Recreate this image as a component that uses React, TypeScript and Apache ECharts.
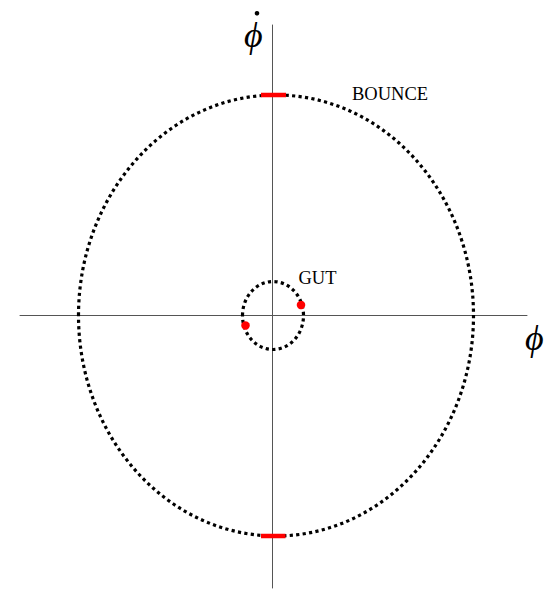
import React, { useEffect, useRef } from "react";
import * as echarts from "echarts";

// orbit ellipses: [centerX, centerY, radiusX, radiusY] in phase-space units
const bigOrbit = [0.035, 0, 1.975, 2.205];
const smallOrbit = [0.005, 0, 0.305, 0.34];
// highlighted segments (BOUNCE) and points (GUT)
const bounceTop = [[-0.115, 2.205], [0.135, 2.205]];
const bounceBottom = [[-0.115, -2.205], [0.13, -2.205]];
const gutPoints = [[0.285, 0.105], [-0.27, -0.1]];
// text labels: [x, y, text]
const labels: [number, number, string][] = [
  [1.175, 2.22, "BOUNCE"],
  [0.45, 0.38, "GUT"],
];
const xRange = [-2.525, 2.545];
const yRange = [-2.725, 2.905];

export default function App() {
  const ref = useRef<HTMLDivElement>(null);
  useEffect(() => {
    const chart = echarts.init(ref.current!, undefined, { renderer: "svg" });
    const serif = "Liberation Serif, DejaVu Serif, serif";
    const ellipseItem = (params: any, api: any) => {
      const c = api.coord([api.value(0), api.value(1)]);
      const s = api.size([api.value(2), api.value(3)]);
      return {
        type: "ellipse",
        shape: { cx: c[0], cy: c[1], rx: s[0], ry: s[1] },
        style: { fill: "none", stroke: "#000", lineWidth: 3.2, lineDash: [3.2, 3.3], lineCap: "butt" },
      };
    };
    chart.setOption({
      animation: false,
      backgroundColor: "#fff",
      grid: { left: 20, right: 20, top: 25, bottom: 3 },
      xAxis: {
        type: "value",
        min: xRange[0],
        max: xRange[1],
        axisLine: { show: true, onZero: true, lineStyle: { color: "#555", width: 1 } },
        axisTick: { show: false },
        axisLabel: { show: false },
        splitLine: { show: false },
      },
      yAxis: {
        type: "value",
        min: yRange[0],
        max: yRange[1],
        axisLine: { show: true, onZero: true, lineStyle: { color: "#555", width: 1 } },
        axisTick: { show: false },
        axisLabel: { show: false },
        splitLine: { show: false },
      },
      series: [
        { type: "custom", renderItem: ellipseItem, data: [bigOrbit, smallOrbit], silent: true },
        {
          type: "line",
          data: bounceTop,
          symbol: "none",
          lineStyle: { color: "#f00", width: 4.5 },
          z: 5,
        },
        {
          type: "line",
          data: bounceBottom,
          symbol: "none",
          lineStyle: { color: "#f00", width: 4.5 },
          z: 5,
        },
        {
          type: "scatter",
          data: gutPoints,
          symbolSize: 8.5,
          itemStyle: { color: "#f00", opacity: 1 },
          z: 5,
        },
        {
          type: "scatter",
          data: labels.map((l) => [l[0], l[1], l[2]]),
          symbolSize: 0,
          itemStyle: { opacity: 1 },
          label: {
            show: true,
            position: "inside",
            formatter: (p: any) => p.value[2],
            fontFamily: serif,
            fontSize: 18.5,
            color: "#000",
            textBorderWidth: 0,
          },
        },
      ],
      graphic: [
        {
          type: "text",
          left: 244,
          top: 17,
          style: { text: "ϕ", font: `italic 36px ${serif}`, fill: "#000" },
        },
        { type: "circle", shape: { cx: 257, cy: 13.3, r: 2.3 }, style: { fill: "#000" } },
        {
          type: "text",
          left: 525,
          top: 320,
          style: { text: "ϕ", font: `italic 36px ${serif}`, fill: "#000" },
        },
      ],
    });
    return () => chart.dispose();
  }, []);
  return (
    <div
      ref={ref}
      style={{ position: "fixed", left: 0, top: 0, width: 547, height: 591 }}
    />
  );
}
